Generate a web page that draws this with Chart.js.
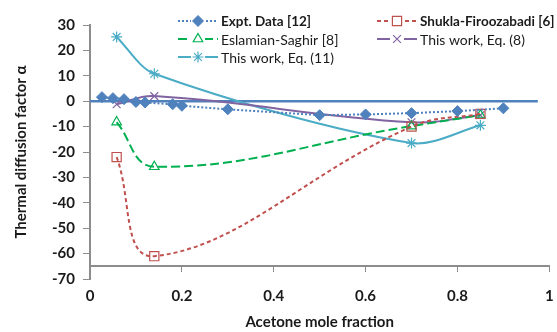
<!DOCTYPE html>
<html>
<head>
<meta charset="utf-8">
<script src="https://cdn.jsdelivr.net/npm/chart.js@4"></script>
<style>
  html, body { margin: 0; padding: 0; background: #fff; }
  canvas { display: block; }
</style>
</head>
<body>
<canvas id="alphaChart" width="557" height="332"></canvas>
<script>
// tick values and labels
const xTicks = [0, 0.2, 0.4, 0.6, 0.8, 1];
const xTickLabels = ['0', '0.2', '0.4', '0.6', '0.8', '1'];
const yTicks = [30, 20, 10, 0, -10, -20, -30, -40, -50, -60, -70];

// experimental data [12]
const exptX = [0.026, 0.05, 0.074, 0.1, 0.12, 0.18, 0.2, 0.3, 0.5, 0.6, 0.7, 0.8, 0.9];
const exptY = [1.6, 1.2, 0.8, -0.3, -0.5, -1.2, -1.8, -3.2, -5.5, -5.2, -4.7, -3.9, -2.8];

// model predictions, same compositions
const modelX = [0.058, 0.14, 0.7, 0.85];
const shuklaY = [-22, -61, -10, -5];
const eslamianY = [-8.2, -25.8, -9.8, -5.5];
const eq8Y = [-1.2, 2, -8.3, -5.5];
const eq11Y = [25.3, 10.8, -16.5, -9.5];

// zero reference line
const zeroX = [0, 0.975];
const zeroY = [0, 0];

const pts = (xs, ys) => xs.map((x, i) => ({ x: x, y: ys[i] }));
const FONT = 'Lato, "Liberation Sans", sans-serif';

const datasets = [
  {
    label: 'zero', data: pts(zeroX, zeroY),
    borderColor: '#4F81BD', borderWidth: 2.5, pointRadius: 0, order: 10
  },
  {
    label: 'Expt. Data [12]', data: pts(exptX, exptY),
    borderColor: '#4F81BD', backgroundColor: '#4F81BD', borderWidth: 2,
    borderDash: [2, 2], pointStyle: 'rectRot', pointRadius: 5.5, pointBorderWidth: 1,
    tension: 0
  },
  {
    label: 'Shukla-Firoozabadi [6]', data: pts(modelX, shuklaY),
    borderColor: '#C0504D', backgroundColor: 'rgba(255,255,255,0)', borderWidth: 2,
    borderDash: [4, 3], pointStyle: 'rect', pointRadius: 6.5, pointBorderWidth: 1.2,
    tension: 0.4
  },
  {
    label: 'Eslamian-Saghir [8]', data: pts(modelX, eslamianY),
    borderColor: '#00B050', backgroundColor: 'rgba(255,255,255,0)', borderWidth: 2,
    borderDash: [9, 4], pointStyle: 'triangle', pointRadius: 5.5, pointBorderWidth: 1.2,
    tension: 0.4
  },
  {
    label: 'This work, Eq. (8)', data: pts(modelX, eq8Y),
    borderColor: '#8064A2', backgroundColor: '#8064A2', borderWidth: 2,
    pointStyle: 'crossRot', pointRadius: 5.5, pointBorderWidth: 1.2,
    tension: 0.4
  },
  {
    label: 'This work, Eq. (11)', data: pts(modelX, eq11Y),
    borderColor: '#4BACC6', backgroundColor: '#4BACC6', borderWidth: 2,
    pointStyle: 'star', pointRadius: 5.5, pointBorderWidth: 1.2,
    tension: 0.3
  }
];

// legend laid out in two columns like the original
const legendSlots = [
  { ds: 1, x: 178, y: 21, bold: true },
  { ds: 2, x: 377, y: 21, bold: true },
  { ds: 3, x: 178, y: 39, bold: false },
  { ds: 4, x: 377, y: 39, bold: false },
  { ds: 5, x: 178, y: 57, bold: false }
];

const gridLegend = {
  id: 'gridLegend',
  afterDraw(chart) {
    const ctx = chart.ctx;
    ctx.save();
    legendSlots.forEach(s => {
      const d = chart.data.datasets[s.ds];
      ctx.strokeStyle = d.borderColor;
      ctx.lineWidth = d.borderWidth;
      ctx.setLineDash(d.borderDash || []);
      ctx.beginPath();
      ctx.moveTo(s.x, s.y);
      ctx.lineTo(s.x + 40, s.y);
      ctx.stroke();
      ctx.setLineDash([]);
      ctx.fillStyle = '#fff';
      ctx.fillRect(s.x + 13, s.y - 6, 14, 12);
      ctx.fillStyle = d.backgroundColor;
      ctx.lineWidth = d.pointBorderWidth;
      Chart.helpers.drawPoint(ctx, {
        pointStyle: d.pointStyle, radius: d.pointRadius, rotation: 0,
        borderWidth: d.pointBorderWidth
      }, s.x + 20, s.y);
      ctx.fillStyle = '#1a1a1a';
      ctx.font = (s.bold ? 'bold 13.5px ' : '14px ') + FONT;
      ctx.textBaseline = 'middle';
      ctx.textAlign = 'left';
      ctx.fillText(d.label, s.x + 43, s.y + 1);
    });
    ctx.restore();
  }
};

new Chart(document.getElementById('alphaChart'), {
  type: 'scatter',
  data: { datasets: datasets.map(d => Object.assign({ showLine: true }, d)) },
  options: {
    responsive: false,
    animation: false,
    devicePixelRatio: 1,
    layout: { padding: { left: 0, top: 25, right: 4, bottom: 53 } },
    plugins: { legend: { display: false }, tooltip: { enabled: false } },
    scales: {
      x: {
        type: 'linear', min: 0, max: 1,
        position: { y: -65 },
        afterBuildTicks: s => { s.ticks = xTicks.map(v => ({ value: v })); },
        grid: { drawOnChartArea: false, tickLength: 5, color: '#8C8C8C' },
        border: { color: '#8C8C8C', width: 2 },
        ticks: {
          padding: 0, autoSkip: false, maxRotation: 0, color: '#1a1a1a',
          font: { family: FONT, size: 15, weight: 'bold', lineHeight: 3.33 },
          callback: (v, i) => xTickLabels[i]
        },
        title: {
          display: true, text: 'Acetone mole fraction', color: '#1a1a1a',
          font: { family: FONT, size: 15, weight: 'bold' }, padding: { top: -8, bottom: 0 }
        }
      },
      y: {
        type: 'linear', min: -70, max: 30,
        afterBuildTicks: s => { s.ticks = yTicks.map(v => ({ value: v })); },
        afterFit: s => { s.width = 90; },
        grid: { drawOnChartArea: false, tickLength: 7, color: '#8C8C8C' },
        border: { color: '#8C8C8C', width: 2 },
        ticks: { padding: 8, color: '#1a1a1a', font: { family: FONT, size: 15, weight: 'bold' } },
        title: {
          display: true, text: 'Thermal diffusion factor α', color: '#1a1a1a',
          font: { family: FONT, size: 15, weight: 'bold' }, padding: { top: 12, bottom: 4 }
        }
      }
    }
  },
  plugins: [gridLegend]
});
</script>
</body>
</html>
